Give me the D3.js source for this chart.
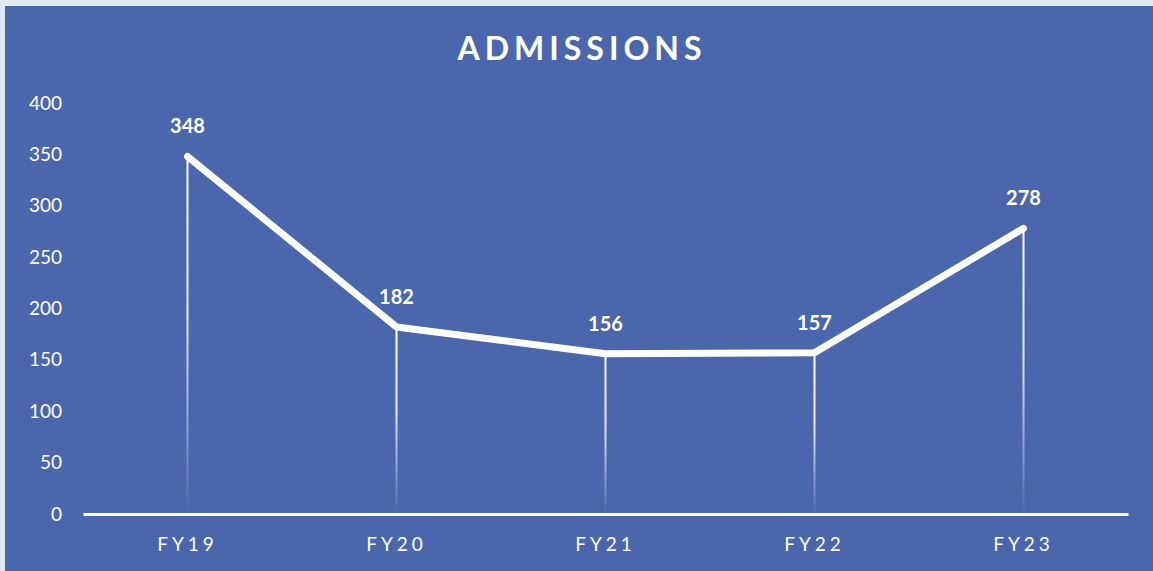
<!DOCTYPE html>
<html>
<head>
<meta charset="utf-8">
<script src="https://cdn.jsdelivr.net/npm/d3@7"></script>
<style>
  html, body { margin: 0; padding: 0; background: #dfeaf3; }
  svg { display: block; }
  text { font-family: Lato, "Open Sans", sans-serif; fill: #fff; }
</style>
</head>
<body>
<div id="chart"></div>
<script>
const years = ["FY19", "FY20", "FY21", "FY22", "FY23"];
const admissions = [348, 182, 156, 157, 278];
const yTicks = [0, 50, 100, 150, 200, 250, 300, 350, 400];

const W = 1153, H = 571;
const margin = { top: 103, right: 25, bottom: 57, left: 83 };

const svg = d3.select("#chart")
    .append("svg")
    .attr("width", W)
    .attr("height", H);

// blue panel
svg.append("rect")
    .attr("x", 5).attr("y", 6)
    .attr("width", W - 5).attr("height", H - 6)
    .attr("fill", "#4a67ae");

const x = d3.scaleBand()
    .domain(years)
    .range([margin.left, W - margin.right]);

const y = d3.scaleLinear()
    .domain([0, 400])
    .range([H - margin.bottom, margin.top]);

// gradient for drop lines
const grad = svg.append("defs").append("linearGradient")
    .attr("id", "dropFade")
    .attr("gradientUnits", "objectBoundingBox")
    .attr("x1", 0).attr("y1", 0).attr("x2", 0).attr("y2", 1);
grad.append("stop").attr("offset", "0%").attr("stop-color", "#fff").attr("stop-opacity", 1);
grad.append("stop").attr("offset", "45%").attr("stop-color", "#fff").attr("stop-opacity", 0.85);
grad.append("stop").attr("offset", "100%").attr("stop-color", "#fff").attr("stop-opacity", 0);

// title
svg.append("text")
    .attr("x", 582)
    .attr("y", 60)
    .attr("text-anchor", "middle")
    .attr("font-size", 32)
    .attr("font-weight", 700)
    .attr("letter-spacing", 5)
    .text("ADMISSIONS");

// y axis (labels only)
const yAxis = d3.axisLeft(y)
    .tickValues(yTicks)
    .tickSize(0)
    .tickPadding(0);
const gy = svg.append("g")
    .attr("transform", "translate(62,0)")
    .call(yAxis);
gy.select(".domain").remove();
gy.selectAll("text")
    .attr("fill", "#fff")
    .attr("font-size", 19)
    .attr("font-family", "Lato, 'Open Sans', sans-serif");

// drop lines
const dataPairs = years.map((yr, i) => [yr, admissions[i]]);
const cx = d => x(d[0]) + x.bandwidth() / 2;

svg.append("g")
    .selectAll("rect")
    .data(dataPairs)
    .join("rect")
    .attr("x", d => cx(d) - 1)
    .attr("y", d => y(d[1]))
    .attr("width", 2)
    .attr("height", d => y(0) - y(d[1]))
    .attr("fill", "url(#dropFade)");

// x axis
const xAxis = d3.axisBottom(x).tickSize(0).tickPadding(0);
const gx = svg.append("g")
    .attr("transform", `translate(0,${y(0)})`)
    .call(xAxis);
gx.select(".domain")
    .attr("stroke", "#fff")
    .attr("stroke-width", 3);
gx.selectAll("text")
    .attr("fill", "#fff")
    .attr("font-size", 19)
    .attr("letter-spacing", 4)
    .attr("dy", 0)
    .attr("y", 37)
    .attr("font-family", "Lato, 'Open Sans', sans-serif");

// line
const line = d3.line()
    .x(d => cx(d))
    .y(d => y(d[1]));
svg.append("path")
    .datum(dataPairs)
    .attr("d", line)
    .attr("fill", "none")
    .attr("stroke", "#fff")
    .attr("stroke-width", 7)
    .attr("stroke-linejoin", "round")
    .attr("stroke-linecap", "round");

// value labels
svg.append("g")
    .selectAll("text")
    .data(dataPairs)
    .join("text")
    .attr("x", d => cx(d))
    .attr("y", d => y(d[1]) - 23)
    .attr("text-anchor", "middle")
    .attr("font-size", 20)
    .attr("font-weight", 700)
    .text(d => d[1]);
</script>
</body>
</html>
